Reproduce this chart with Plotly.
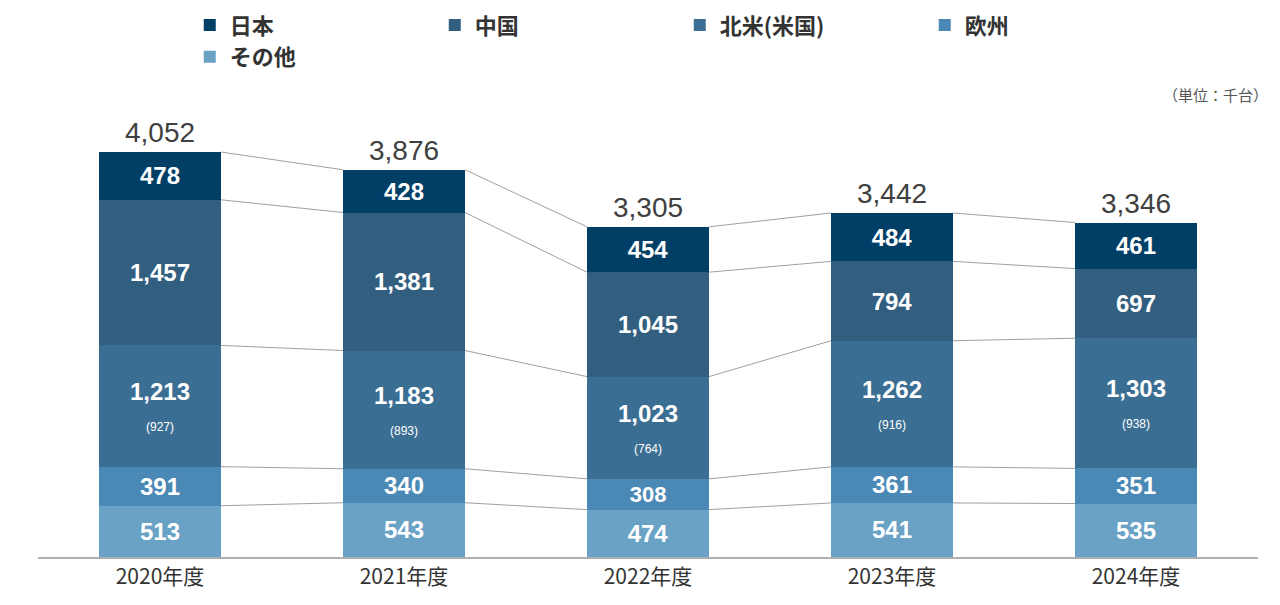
import plotly.graph_objects as go

years = ["2020年度", "2021年度", "2022年度", "2023年度", "2024年度"]
japan = [478, 428, 454, 484, 461]
china = [1457, 1381, 1045, 794, 697]
namerica = [1213, 1183, 1023, 1262, 1303]
us_only = [927, 893, 764, 916, 938]
europe = [391, 340, 308, 361, 351]
other = [513, 543, 474, 541, 535]
totals = [4052, 3876, 3305, 3442, 3346]

font_jp = "Noto Sans CJK JP"
fig = go.Figure()

# stacked bottom -> top
series = [
    ("その他", other, "#6aa2c6", 5),
    ("欧州", europe, "#4a88b5", 4),
    ("北米(米国)", namerica, "#3b6e93", 3),
    ("中国", china, "#325f7f", 2),
    ("日本", japan, "#023f66", 1),
]
for name, vals, col, rank in series:
    if name == "北米(米国)":
        txt = [f"{v:,}<br><span style='font-size:12px;font-weight:normal'>({u})</span>"
               for v, u in zip(vals, us_only)]
    else:
        txt = [f"{v:,}" for v in vals]
    fig.add_trace(go.Bar(
        x=list(range(5)), y=vals, name=name, marker_color=col, marker_line_width=0,
        width=0.5, text=txt, textposition="inside", insidetextanchor="middle",
        textangle=0,
        textfont=dict(color="white", size=24, family="Liberation Sans", weight="bold"),
        legendrank=rank, hoverinfo="skip",
    ))

# connector lines between the stacks
cum = [0] * 5
for name, vals, col, rank in series:
    cum = [c + v for c, v in zip(cum, vals)]
    for i in range(4):
        fig.add_trace(go.Scatter(
            x=[i + 0.25, i + 0.75], y=[cum[i], cum[i + 1]], mode="lines",
            line=dict(color="#a0a0a0", width=1), showlegend=False, hoverinfo="skip",
        ))

for i, t in enumerate(totals):
    fig.add_annotation(x=i, y=t, text=f"{t:,}", showarrow=False, yanchor="bottom",
                       yshift=2, font=dict(size=28, color="#404040", family="Liberation Sans"))

fig.add_annotation(xref="paper", yref="paper", x=1.01, y=1.0, xanchor="right",
                   yanchor="top", yshift=-14, text="（単位：千台）", showarrow=False,
                   font=dict(size=15, color="#555555", family=font_jp))

fig.update_layout(
    width=1280, height=605, barmode="stack", plot_bgcolor="white", paper_bgcolor="white",
    margin=dict(l=30, r=30, t=60, b=56, autoexpand=False),
    font=dict(family=font_jp, color="#404040"),
    legend=dict(orientation="h", xref="container", yref="container", x=0.142,
                xanchor="left", y=0.945, yanchor="middle",
                font=dict(size=22, family=font_jp, weight="bold", color="#333333"),
                entrywidth=200, itemwidth=30, traceorder="normal"),
    xaxis=dict(tickmode="array", tickvals=list(range(5)), ticktext=years,
               range=[-0.5, 4.5], showline=True, linecolor="#b0b0b0", linewidth=1.5,
               ticks="", tickfont=dict(size=21, color="#333333", family=font_jp)),
    yaxis=dict(range=[0, 4893], visible=False),
)
fig.write_html("out.html")
